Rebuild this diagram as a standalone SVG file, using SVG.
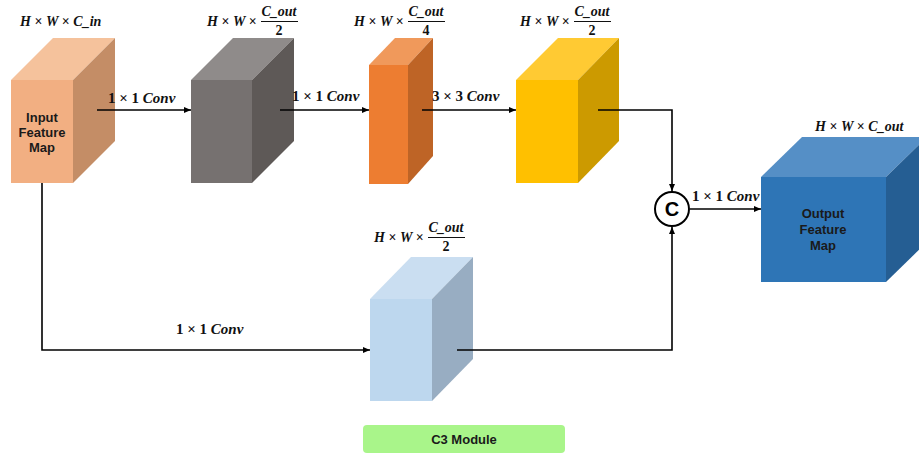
<svg xmlns="http://www.w3.org/2000/svg" width="919" height="455" viewBox="0 0 919 455">
<style>
.m{font-family:"Liberation Serif","DejaVu Serif",serif;font-size:14px;font-weight:bold;fill:#111}
.k{font-size:15px}
.i{font-style:italic}
.n{font-family:"Liberation Sans","Noto Sans",sans-serif;font-size:13px;font-weight:bold;fill:#1a1a1a;text-anchor:middle}
.c{fill:none;stroke:#000;stroke-width:1.6}
.fl{stroke:#111;stroke-width:1}
</style>
<defs>
<marker id="a" markerWidth="8" markerHeight="8" refX="7" refY="4" orient="auto" markerUnits="userSpaceOnUse">
<path d="M0,1 L7,4 L0,7 Z" fill="#000"/>
</marker>
</defs>
<rect width="919" height="455" fill="#fff"/>

<g id="input">
<polygon points="11,80 53,38 115,38 73,80" fill="#F5C29C"/>
<polygon points="73,80 115,38 115,141 73,183" fill="#C48D66"/>
<rect x="11" y="80" width="62" height="103" fill="#F2AF82"/>
<text class="n"><tspan x="42" y="122">Input</tspan><tspan x="42" y="137">Feature</tspan><tspan x="42" y="152">Map</tspan></text>
<text class="m" x="20" y="26"><tspan class="i">H</tspan> × <tspan class="i">W</tspan> × <tspan class="i">C_in</tspan></text>
</g>

<g id="conv1">
<polygon points="191,80 233,38 294,38 252,80" fill="#8F8B8A"/>
<polygon points="252,80 294,38 294,141 252,183" fill="#5E5957"/>
<rect x="191" y="80" width="61" height="103" fill="#767170"/>
<text class="m" x="207" y="26"><tspan class="i">H</tspan> × <tspan class="i">W</tspan> ×</text>
<text class="m" x="279" y="16" text-anchor="middle"><tspan class="i">C_out</tspan></text>
<line class="fl" x1="261" y1="21.5" x2="298" y2="21.5"/>
<text class="m" x="279" y="35" text-anchor="middle">2</text>
</g>

<g id="conv2">
<polygon points="369,65 395,38 433,38 408,65" fill="#F0995B"/>
<polygon points="408,65 433,38 433,156 408,184" fill="#BE6426"/>
<rect x="369" y="65" width="39" height="119" fill="#ED7D31"/>
<text class="m" x="354" y="26"><tspan class="i">H</tspan> × <tspan class="i">W</tspan> ×</text>
<text class="m" x="426" y="16" text-anchor="middle"><tspan class="i">C_out</tspan></text>
<line class="fl" x1="408" y1="21.5" x2="445" y2="21.5"/>
<text class="m" x="426" y="35" text-anchor="middle">4</text>
</g>

<g id="conv3">
<polygon points="516,80 558,38 619,38 578,80" fill="#FFCA33"/>
<polygon points="578,80 619,38 619,141 578,183" fill="#CC9A00"/>
<rect x="516" y="80" width="62" height="103" fill="#FFC000"/>
<text class="m" x="520" y="26"><tspan class="i">H</tspan> × <tspan class="i">W</tspan> ×</text>
<text class="m" x="592" y="16" text-anchor="middle"><tspan class="i">C_out</tspan></text>
<line class="fl" x1="574" y1="21.5" x2="611" y2="21.5"/>
<text class="m" x="592" y="35" text-anchor="middle">2</text>
</g>

<g id="bypass">
<polygon points="370,299 411,257 473,257 432,299" fill="#CADEF1"/>
<polygon points="432,299 473,257 473,359 432,401" fill="#98ADC2"/>
<rect x="370" y="299" width="62" height="102" fill="#BDD7EE"/>
<text class="m" x="374" y="242"><tspan class="i">H</tspan> × <tspan class="i">W</tspan> ×</text>
<text class="m" x="446" y="232" text-anchor="middle"><tspan class="i">C_out</tspan></text>
<line class="fl" x1="428" y1="237.5" x2="465" y2="237.5"/>
<text class="m" x="446" y="251" text-anchor="middle">2</text>
</g>

<g id="concat">
<circle cx="672" cy="209" r="17" fill="#fff" stroke="#000" stroke-width="2"/>
<text x="672" y="216" text-anchor="middle" font-family="Liberation Sans,sans-serif" font-size="20" font-weight="bold" fill="#000">C</text>
</g>

<g id="output">
<polygon points="761,177 802,137 927,137 886,177" fill="#558FC6"/>
<polygon points="886,177 927,137 927,242 886,282" fill="#255E93"/>
<rect x="761" y="177" width="125" height="105" fill="#2E75B6"/>
<text class="n" font-size="14"><tspan x="823" y="218">Output</tspan><tspan x="823" y="234">Feature</tspan><tspan x="823" y="250">Map</tspan></text>
<text class="m" x="815" y="131"><tspan class="i">H</tspan> × <tspan class="i">W</tspan> × <tspan class="i">C_out</tspan></text>
</g>

<g id="connectors">
<line class="c" x1="97" y1="110" x2="191" y2="110" marker-end="url(#a)"/>
<text class="m k" x="108" y="103">1 × 1 <tspan class="i">Conv</tspan></text>
<line class="c" x1="280" y1="110" x2="369" y2="110" marker-end="url(#a)"/>
<text class="m k" x="292" y="101">1 × 1 <tspan class="i">Conv</tspan></text>
<line class="c" x1="422" y1="110" x2="516" y2="110" marker-end="url(#a)"/>
<text class="m k" x="432" y="101">3 × 3 <tspan class="i">Conv</tspan></text>
<polyline class="c" points="598,110 672,110 672,191" marker-end="url(#a)"/>
<polyline class="c" points="42,183 42,350 370,350" marker-end="url(#a)"/>
<text class="m k" x="176" y="334">1 × 1 <tspan class="i">Conv</tspan></text>
<polyline class="c" points="457,350 672,350 672,227" marker-end="url(#a)"/>
<line class="c" x1="690" y1="209" x2="761" y2="209" marker-end="url(#a)"/>
<text class="m k" x="692" y="201">1 × 1 <tspan class="i">Conv</tspan></text>
</g>

<g id="title">
<rect x="363" y="425" width="202" height="28" rx="4" fill="#A9F58A"/>
<text class="n" x="464" y="444">C3 Module</text>
</g>
</svg>
